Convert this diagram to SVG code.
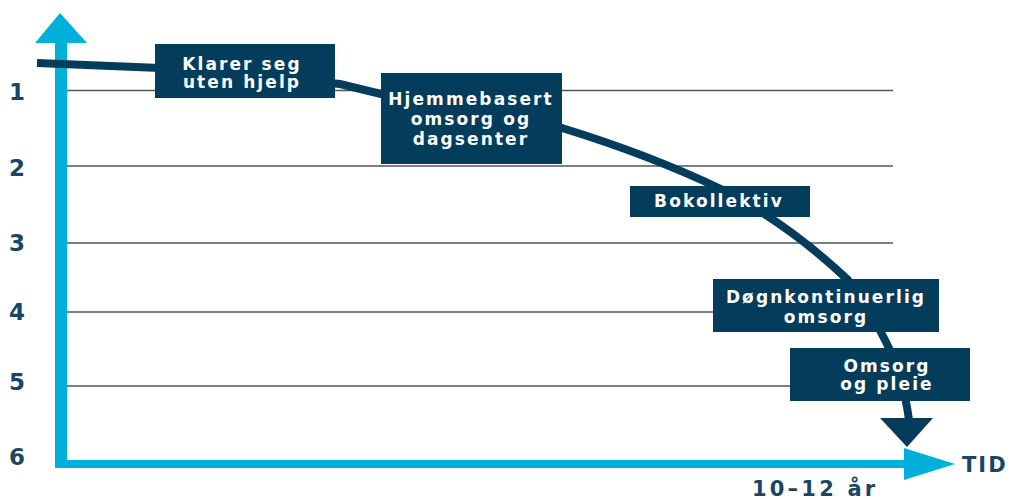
<svg xmlns="http://www.w3.org/2000/svg" width="1010" height="499" viewBox="0 0 1010 499">
<style>
.grid{stroke:#555;stroke-width:1.5}
.axis{fill:#00b0da}
.box{fill:#043c5c}
.bt{font-family:"DejaVu Sans",sans-serif;font-weight:bold;font-size:17px;fill:#fff;text-anchor:middle;letter-spacing:2.1px}
.num{font-family:"DejaVu Sans",sans-serif;font-weight:bold;font-size:23px;fill:#1b4565;text-anchor:middle}
.lbl{font-family:"DejaVu Sans",sans-serif;font-weight:bold;font-size:21px;fill:#1b4565;letter-spacing:2px}
</style>
<rect width="1010" height="499" fill="#fff"/>
<g id="grid">
<line class="grid" x1="66" y1="90.5" x2="893" y2="90.5"/>
<line class="grid" x1="66" y1="166" x2="893" y2="166"/>
<line class="grid" x1="66" y1="243" x2="893" y2="243"/>
<line class="grid" x1="66" y1="312" x2="893" y2="312"/>
<line class="grid" x1="66" y1="386" x2="893" y2="386"/>
</g>
<g id="axes">
<rect class="axis" x="55" y="40" width="12" height="428"/>
<polygon class="axis" points="35,43 60,13 87,43"/>
<rect class="axis" x="55" y="460" width="852" height="8"/>
<polygon class="axis" points="904,448 955,464 904,480"/>
</g>
<g id="labels">
<text class="num" x="17" y="100">1</text>
<text class="num" x="17" y="176">2</text>
<text class="num" x="17" y="251">3</text>
<text class="num" x="17" y="320">4</text>
<text class="num" x="17" y="390">5</text>
<text class="num" x="17" y="465">6</text>
<text class="lbl" x="962" y="472">TID</text>
<text class="lbl" x="752" y="496" style="letter-spacing:3.2px">10–12 år</text>
</g>
<g id="connectors">
<path d="M37,63 L160,68 Q260,75 340,84 L381,94 Q480,110 562,128 Q650,155 723,190 Q790,225 848,280 Q870,310 885,340 Q903,375 909,420" fill="none" stroke="#043c5c" stroke-width="8"/>
<polygon class="box" points="880,418 933,418 907,447"/>
</g>
<g id="node1">
<rect class="box" x="155" y="44" width="180" height="54"/>
<text class="bt" x="242" y="70">Klarer seg</text>
<text class="bt" x="242" y="88">uten hjelp</text>
</g>
<g id="node2">
<rect class="box" x="381" y="73" width="181" height="91"/>
<text class="bt" x="471" y="105">Hjemmebasert</text>
<text class="bt" x="471" y="125">omsorg og</text>
<text class="bt" x="471" y="145">dagsenter</text>
</g>
<g id="node3">
<rect class="box" x="630" y="186" width="180" height="31"/>
<text class="bt" x="719" y="207">Bokollektiv</text>
</g>
<g id="node4">
<rect class="box" x="713" y="279" width="226" height="53"/>
<text class="bt" x="826" y="303">Døgnkontinuerlig</text>
<text class="bt" x="826" y="323">omsorg</text>
</g>
<g id="node5">
<rect class="box" x="790" y="348" width="180" height="53"/>
<text class="bt" x="887" y="372">Omsorg</text>
<text class="bt" x="887" y="390">og pleie</text>
</g>
</svg>
